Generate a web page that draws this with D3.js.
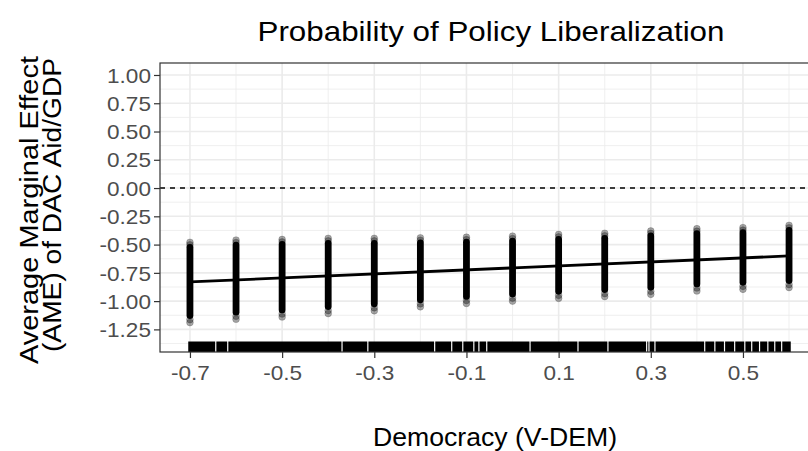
<!DOCTYPE html>
<html lang="en">
<head>
  <meta charset="UTF-8">
  <title>Probability of Policy Liberalization</title>
  <style>
    body { margin: 0; background: #fff; overflow: hidden; }
    svg { display: block; font-family: "Liberation Sans", Arial, sans-serif; }
  </style>
</head>
<body>
  <svg id="chart" width="808" height="451"></svg>
  <script src="https://cdn.jsdelivr.net/npm/d3@7"></script>
  <script>
    // democracy levels where the AME was simulated
    const colX = [-0.7, -0.6, -0.5, -0.4, -0.3, -0.2, -0.1, 0.0, 0.1, 0.2, 0.3, 0.4, 0.5, 0.6]
    // highest / lowest simulated AME in each column
    const colTop = [-0.48, -0.46, -0.455, -0.445, -0.445, -0.44, -0.435, -0.425, -0.41, -0.40, -0.38, -0.36, -0.35, -0.33]
    const colBottom = [-1.19, -1.16, -1.14, -1.11, -1.085, -1.05, -1.02, -1.00, -0.975, -0.96, -0.94, -0.91, -0.895, -0.88]
    // fitted line end points
    const fitX = [-0.7, 0.6]
    const fitY = [-0.83, -0.60]
    // rug: observed democracy range and the gaps without observations
    const rugRange = [-0.705, 0.605]
    const rugGaps = [-0.644, -0.618, -0.370, -0.314, -0.169, -0.132, -0.108, -0.084, -0.073, -0.056,
      0.038, 0.142, 0.207, 0.291, 0.296, 0.309, 0.417, 0.439, 0.460, 0.482, 0.504, 0.519, 0.536, 0.554, 0.569, 0.584]
    // axes
    const yTicks = [1.0, 0.75, 0.5, 0.25, 0, -0.25, -0.5, -0.75, -1.0, -1.25]
    const xTicks = [-0.7, -0.5, -0.3, -0.1, 0.1, 0.3, 0.5]

    const svg = d3.select('#chart')
    const pLeft = 160, pRight = 819, pTop = 63, pBottom = 352
    const stretch = 'scale(1.13,1)'

    const x = d3.scaleLinear().domain([-0.765, 0.665]).range([pLeft, pRight])
    const y = d3.scaleLinear().domain([-1.45, 1.106]).range([pBottom, pTop])

    // grid
    const grid = svg.append('g')
    const yMinor = d3.range(-1.375, 1.1, 0.25)
    const xMinor = d3.range(-0.6, 0.7, 0.2)
    grid.selectAll('.ymin').data(yMinor).enter().append('line')
      .attr('x1', pLeft).attr('x2', pRight)
      .attr('y1', d => y(d)).attr('y2', d => y(d))
      .attr('stroke', '#ebebeb').attr('stroke-width', 0.8)
    grid.selectAll('.xmin').data(xMinor).enter().append('line')
      .attr('y1', pTop).attr('y2', pBottom)
      .attr('x1', d => x(d)).attr('x2', d => x(d))
      .attr('stroke', '#ebebeb').attr('stroke-width', 0.8)
    grid.selectAll('.ymaj').data(yTicks).enter().append('line')
      .attr('x1', pLeft).attr('x2', pRight)
      .attr('y1', d => y(d)).attr('y2', d => y(d))
      .attr('stroke', '#ebebeb').attr('stroke-width', 1.6)
    grid.selectAll('.xmaj').data(xTicks).enter().append('line')
      .attr('y1', pTop).attr('y2', pBottom)
      .attr('x1', d => x(d)).attr('x2', d => x(d))
      .attr('stroke', '#ebebeb').attr('stroke-width', 1.6)

    // zero line
    svg.append('line')
      .attr('x1', pLeft).attr('x2', pRight)
      .attr('y1', y(0)).attr('y2', y(0))
      .attr('stroke', '#000').attr('stroke-width', 1.5)
      .attr('stroke-dasharray', '5,5')

    // rug
    const edges = [rugRange[0]].concat(rugGaps).concat([rugRange[1]])
    const spans = d3.pairs(edges)
    svg.append('g').selectAll('rect').data(spans).enter().append('rect')
      .attr('x', d => x(d[0]) + 0.6)
      .attr('width', d => Math.max(0.6, x(d[1]) - x(d[0]) - 1.2))
      .attr('y', pBottom - 10.5).attr('height', 10.5)
      .attr('fill', '#000')

    // point columns
    const cols = colX.map((v, i) => ({ x: v, hi: colTop[i], lo: colBottom[i] }))
    const pts = svg.append('g')
    pts.selectAll('.core').data(cols).enter().append('line')
      .attr('x1', d => x(d.x)).attr('x2', d => x(d.x))
      .attr('y1', d => y(d.hi) + 5).attr('y2', d => y(d.lo) - 7)
      .attr('stroke', '#000').attr('stroke-width', 6.8)
      .attr('stroke-linecap', 'round')
    const ends = []
    cols.forEach(d => {
      ends.push({ x: d.x, py: y(d.hi) }, { x: d.x, py: y(d.hi) + 2.5 },
        { x: d.x, py: y(d.lo) }, { x: d.x, py: y(d.lo) - 3 })
    })
    pts.selectAll('circle').data(ends).enter().append('circle')
      .attr('cx', d => x(d.x)).attr('cy', d => d.py).attr('r', 3.4)
      .attr('fill', '#000').attr('fill-opacity', 0.35)
      .attr('stroke', '#000').attr('stroke-opacity', 0.3).attr('stroke-width', 0.6)

    // fitted line
    svg.append('path')
      .datum(fitX.map((v, i) => [v, fitY[i]]))
      .attr('fill', 'none').attr('stroke', '#000').attr('stroke-width', 2.8)
      .attr('d', d3.line().x(d => x(d[0])).y(d => y(d[1])))

    // panel border
    svg.append('rect')
      .attr('x', pLeft).attr('y', pTop)
      .attr('width', pRight - pLeft).attr('height', pBottom - pTop)
      .attr('fill', 'none').attr('stroke', '#333').attr('stroke-width', 1.2)

    // axes (plain hyphen for minus, like R)
    const hyph = f => d => f(d).replace('\u2212', '-')
    const yAxis = svg.append('g')
      .attr('transform', `translate(${pLeft},0)`)
      .call(d3.axisLeft(y).tickValues(yTicks).tickFormat(hyph(d3.format('.2f'))).tickSize(6).tickPadding(2))
    const xAxis = svg.append('g')
      .attr('transform', `translate(0,${pBottom})`)
      .call(d3.axisBottom(x).tickValues(xTicks).tickFormat(hyph(d3.format('.1f'))).tickSize(6).tickPadding(8))
    ;[yAxis, xAxis].forEach(a => {
      a.select('.domain').remove()
      a.selectAll('.tick line').attr('stroke', '#333').attr('stroke-width', 1.2)
      a.selectAll('.tick text').attr('fill', '#4d4d4d').attr('transform', stretch)
        .style('font-size', '20px').style('font-family', '"Liberation Sans", Arial, sans-serif')
    })
    yAxis.selectAll('.tick text').attr('dy', '0.36em')

    // titles
    svg.append('text')
      .attr('x', 491).attr('y', 41)
      .attr('text-anchor', 'middle')
      .attr('textLength', 467).attr('lengthAdjust', 'spacingAndGlyphs')
      .style('font-size', '28px').attr('fill', '#000')
      .text('Probability of Policy Liberalization')
    svg.append('text')
      .attr('x', 495).attr('y', 446)
      .attr('text-anchor', 'middle')
      .attr('textLength', 244).attr('lengthAdjust', 'spacingAndGlyphs')
      .style('font-size', '25px').attr('fill', '#000')
      .text('Democracy (V-DEM)')
    const yt = svg.append('g').attr('transform', 'translate(38,0) rotate(-90)')
    yt.append('text')
      .attr('x', -210).attr('y', 0)
      .attr('text-anchor', 'middle')
      .attr('textLength', 308).attr('lengthAdjust', 'spacingAndGlyphs')
      .style('font-size', '25px').attr('fill', '#000')
      .text('Average Marginal Effect')
    yt.append('text')
      .attr('x', -205).attr('y', 23)
      .attr('text-anchor', 'middle')
      .attr('textLength', 294).attr('lengthAdjust', 'spacingAndGlyphs')
      .style('font-size', '25px').attr('fill', '#000')
      .text('(AME) of DAC Aid/GDP')
  </script>
</body>
</html>
